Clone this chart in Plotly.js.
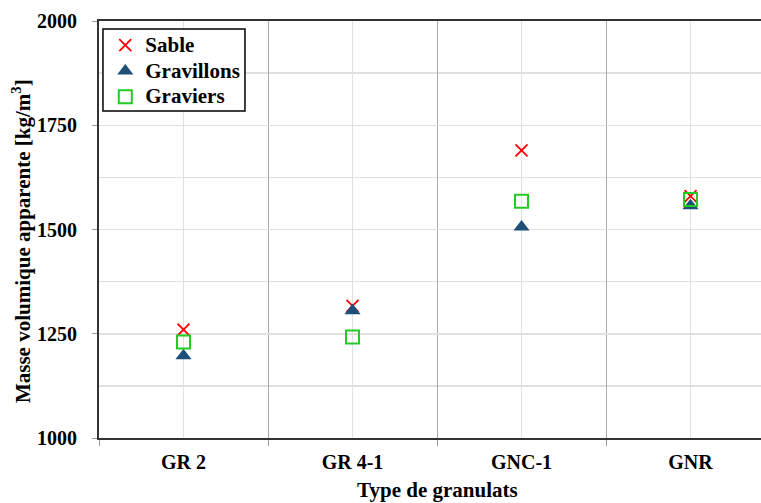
<!DOCTYPE html>
<html><head><meta charset="utf-8">
<script src="https://cdn.plot.ly/plotly-3.0.1.min.js"></script>
<style>html,body{margin:0;padding:0;background:#fff}#chart{width:761px;height:503px}</style>
</head><body><div id="chart"></div>
<script>
const categories = ["GR 2", "GR 4-1", "GNC-1", "GNR"];
const seriesNames = ["Sable", "Gravillons", "Graviers"];
const sable = [1260, 1317, 1690, 1580];
const gravillons = [1197, 1305, 1506, 1557];
const graviers = [1230, 1242, 1568, 1572];
const yTicks = [1000, 1250, 1500, 1750, 2000];

const font = "'Liberation Serif', 'Times New Roman', serif";
const big = s => '<span style="font-size:21px">' + s + '</span>';
const traces = [
  {x: categories, y: sable, name: big(seriesNames[0]), type: "scatter", mode: "markers",
   marker: {symbol: "x-thin", size: 12, color: "#FF0000", line: {color: "#FF0000", width: 1.8}}},
  {x: categories, y: gravillons, name: big(seriesNames[1]), type: "scatter", mode: "markers",
   marker: {symbol: "triangle-up", size: 14, color: "#1F4E79"}},
  {x: categories, y: graviers, name: big(seriesNames[2]), type: "scatter", mode: "markers",
   marker: {symbol: "square-open", size: 13, color: "#22CC22", line: {color: "#22CC22", width: 2}}},
  {x: categories, y: sable, xaxis: "x2", type: "scatter", mode: "markers", showlegend: false,
   hoverinfo: "skip", marker: {opacity: 0}}
];
const layout = {
  width: 761, height: 503,
  margin: {l: 99, r: 0, t: 21, b: 65},
  paper_bgcolor: "#fff", plot_bgcolor: "#fff",
  font: {family: font, color: "#000"},
  showlegend: true,
  legend: {x: 0.0095, y: 0.985, xanchor: "left", yanchor: "top",
    bgcolor: "rgba(0,0,0,0)", borderwidth: 0,
    font: {family: font, size: 17.5, color: "#000", weight: "bold"},
    itemwidth: 20, tracegroupgap: 0},
  shapes: [{type: "rect", xref: "paper", yref: "paper", layer: "above",
    x0: 0.006, x1: 0.2205, y0: 0.7842, y1: 0.9808,
    line: {color: "#000", width: 1.5}, fillcolor: "#fff"}],
  xaxis: {type: "category", range: [-0.5, 3.417], tickson: "boundaries",
    showgrid: true, gridcolor: "#AAAAAA", gridwidth: 1,
    showline: true, linecolor: "#333", linewidth: 2, mirror: true,
    ticks: "outside", ticklen: 6, tickcolor: "#999", ticklabelstandoff: 5,
    tickfont: {family: font, size: 20, weight: "bold"}, zeroline: false},
  xaxis2: {type: "category", range: [-0.5, 3.417], overlaying: "x",
    showgrid: true, gridcolor: "#E0E0E0", gridwidth: 1.5, showticklabels: false,
    ticks: "", zeroline: false, showline: false},
  yaxis: {range: [1000, 2000], tickvals: yTicks, ticktext: yTicks.map(String),
    showgrid: true, gridcolor: "#E0E0E0", gridwidth: 1.5,
    minor: {dtick: 125, tick0: 1000, showgrid: true, gridcolor: "#E0E0E0", gridwidth: 1.5},
    showline: true, linecolor: "#333", linewidth: 2, mirror: true,
    ticks: "outside", ticklen: 5, tickcolor: "#999", ticklabelstandoff: 11,
    tickfont: {family: font, size: 20, weight: "bold"}, zeroline: false},
  annotations: [
    {text: "Type de granulats", xref: "paper", yref: "paper", x: 0.5106, y: -0.125,
     xanchor: "center", yanchor: "middle", showarrow: false,
     font: {family: font, size: 21, weight: "bold"}},
    {text: "Masse volumique apparente [kg/m<sup>3</sup>]", xref: "paper", yref: "paper",
     x: -0.118, y: 0.472, xanchor: "center", yanchor: "middle", textangle: -90, showarrow: false,
     font: {family: font, size: 21, weight: "bold"}}
  ]
};
Plotly.newPlot("chart", traces, layout, {displayModeBar: false, staticPlot: true});
</script></body></html>
